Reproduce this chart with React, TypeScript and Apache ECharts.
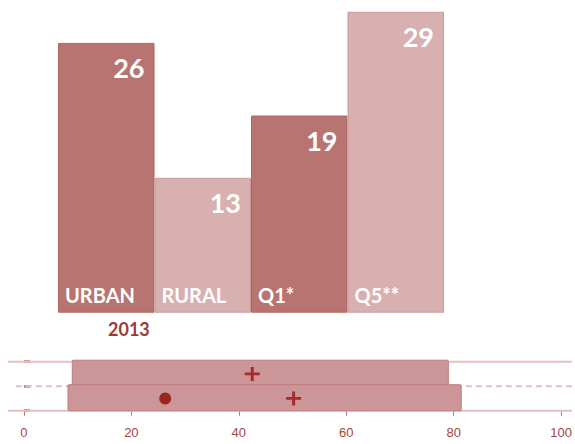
import React, { useEffect, useRef } from "react";
import * as echarts from "echarts";

const categories = ["URBAN", "RURAL", "Q1*", "Q5**"];
const values = [26, 13, 19, 29];
const barColors = ["#b87470", "#d8b0b0", "#b87470", "#d8b0b0"];
const barBorders = ["#b0645f", "#c99a9a", "#b0645f", "#c99a9a"];
const yearLabel = "2013";

// box plot strip: [low, high, yBottom, yTop]
const boxes = [
  [9.0, 79.0, 1, 2],
  [8.2, 81.4, 0, 1],
];
const plusMarks = [
  [42.5, 1.5],
  [50.2, 0.5],
];
const dotMarks = [[26.3, 0.5]];
const stripTicks = [0, 20, 40, 60, 80, 100];
const guideSolid = [2, 0];
const guideDashed = [1];

export default function App() {
  const ref = useRef<HTMLDivElement>(null);
  useEffect(() => {
    if (!ref.current) return;
    const chart = echarts.init(ref.current, undefined, { renderer: "svg" });
    const guideSeries: any[] = [];
    guideSolid.forEach((y) =>
      guideSeries.push({
        type: "line",
        xAxisIndex: 1,
        yAxisIndex: 1,
        data: [
          [-3, y],
          [102, y],
        ],
        symbol: "none",
        clip: false,
        silent: true,
        z: 1,
        lineStyle: { color: "#e4c0c0", width: 2 },
      })
    );
    guideDashed.forEach((y) =>
      guideSeries.push({
        type: "line",
        xAxisIndex: 1,
        yAxisIndex: 1,
        data: [
          [-1.5, y],
          [102, y],
        ],
        symbol: "none",
        clip: false,
        silent: true,
        z: 1,
        lineStyle: { color: "#e4c0c0", width: 2, type: [6, 4] },
      })
    );
    const option: any = {
      animation: false,
      title: {
        text: yearLabel,
        left: 108,
        top: 320,
        padding: 0,
        textStyle: {
          fontFamily: "Lato",
          fontWeight: "bold",
          fontSize: 18,
          color: "#9e3a36",
        },
      },
      grid: [
        { left: 58, right: 131, top: 1.4, height: 311.3 },
        { left: 7.8, right: 0.9, top: 361.7, height: 49 },
      ],
      xAxis: [
        {
          type: "category",
          gridIndex: 0,
          data: categories,
          show: false,
        },
        {
          type: "value",
          gridIndex: 1,
          min: -3,
          max: 102,
          axisLine: { show: false },
          splitLine: { show: false },
          offset: 9,
          axisTick: {
            show: true,
            length: 5,
            customValues: stripTicks,
            lineStyle: { color: "#c07070", width: 1 },
          },
          axisLabel: {
            customValues: stripTicks,
            margin: 6,
            fontFamily: "Liberation Sans",
            fontSize: 13,
            color: "#a8443e",
          },
        },
      ],
      yAxis: [
        { type: "value", gridIndex: 0, min: 0, max: 30, show: false },
        {
          type: "value",
          gridIndex: 1,
          min: 0,
          max: 2,
          interval: 1,
          axisLine: { show: false },
          splitLine: { show: false },
          axisLabel: { show: false },
          axisTick: {
            show: true,
            inside: true,
            length: 6,
            lineStyle: { color: "#cc8a8a", width: 3 },
          },
        },
      ],
      series: [
        {
          type: "bar",
          xAxisIndex: 0,
          yAxisIndex: 0,
          barCategoryGap: 0,
          barGap: "-100%",
          data: values.map((v, i) => ({
            value: v,
            itemStyle: {
              color: barColors[i],
              borderColor: barBorders[i],
              borderWidth: 1,
            },
          })),
          label: {
            show: true,
            position: "insideTopRight",
            distance: 10,
            color: "#ffffff",
            fontFamily: "Lato",
            fontWeight: "bold",
            fontSize: 27,
            lineHeight: 30,
          },
        },
        {
          type: "bar",
          xAxisIndex: 0,
          yAxisIndex: 0,
          barCategoryGap: 0,
          barGap: "-100%",
          data: values,
          itemStyle: { color: "rgba(0,0,0,0)" },
          silent: true,
          label: {
            show: true,
            position: "insideBottomLeft",
            distance: 7,
            formatter: (p: any) => categories[p.dataIndex],
            color: "#ffffff",
            fontFamily: "Lato",
            fontWeight: "bold",
            fontSize: 20,
            lineHeight: 22,
          },
        },
        ...guideSeries,
        {
          type: "custom",
          xAxisIndex: 1,
          yAxisIndex: 1,
          data: boxes,
          clip: false,
          z: 2,
          renderItem: (params: any, api: any) => {
            const p0 = api.coord([api.value(0), api.value(3)]);
            const p1 = api.coord([api.value(1), api.value(2)]);
            return {
              type: "rect",
              shape: {
                x: p0[0],
                y: p0[1] - 1.5,
                width: p1[0] - p0[0],
                height: p1[1] - p0[1] + 1.5,
                r: 1,
              },
              style: { fill: "#cc9698", stroke: "#c07d80", lineWidth: 1 },
            };
          },
        },
        {
          type: "scatter",
          xAxisIndex: 1,
          yAxisIndex: 1,
          data: plusMarks,
          z: 3,
          symbol: "path://M6,0H9V6H15V9H9V15H6V9H0V6H6Z",
          symbolSize: [15, 14],
          itemStyle: { color: "#a52c28", opacity: 1 },
        },
        {
          type: "scatter",
          xAxisIndex: 1,
          yAxisIndex: 1,
          data: dotMarks,
          z: 3,
          symbol: "circle",
          symbolSize: 12,
          itemStyle: { color: "#9e2620", opacity: 1 },
        },
      ],
    };
    chart.setOption(option);
    return () => chart.dispose();
  }, []);
  return (
    <div
      ref={ref}
      style={{ position: "absolute", left: 0, top: 0, width: 575, height: 444 }}
    />
  );
}
